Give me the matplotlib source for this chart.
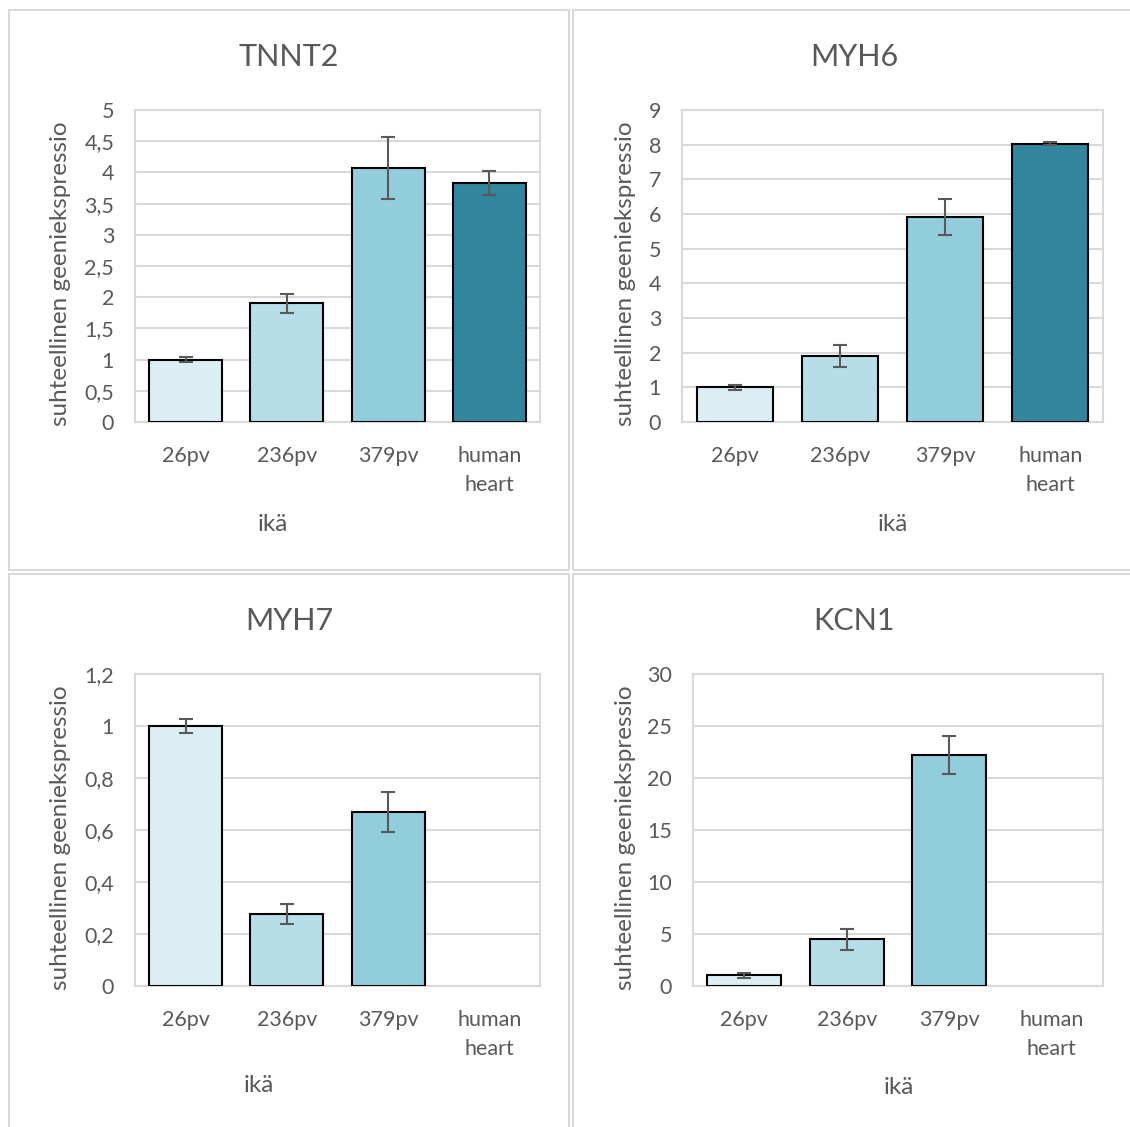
import numpy as np
import matplotlib
matplotlib.use("Agg")
import matplotlib.pyplot as plt
from matplotlib.patches import Rectangle
from matplotlib.ticker import FuncFormatter, MultipleLocator

plt.rcParams['font.family'] = ['Lato', 'DejaVu Sans']

categories = ["26pv", "236pv", "379pv", "human\nheart"]

tnnt2_values = [1.0, 1.9, 4.07, 3.83]
tnnt2_err = [0.04, 0.15, 0.50, 0.20]

myh6_values = [1.0, 1.90, 5.90, 8.03]
myh6_err = [0.08, 0.31, 0.52, 0.04]

myh7_values = [1.0, 0.276, 0.668, np.nan]
myh7_err = [0.026, 0.038, 0.077, np.nan]

kcn1_values = [1.02, 4.5, 22.2, np.nan]
kcn1_err = [0.26, 1.02, 1.8, np.nan]

bar_colors = ["#DAEEF3", "#B7DDE8", "#92CDDC", "#31859C"]
text_color = "#595959"
grid_color = "#D9D9D9"

W, H = 1130, 1127
fig = plt.figure(figsize=(W / 100, H / 100), dpi=100)


def px_axes(x0, y0, x1, y1):
    # pixel box (top-left origin) -> figure axes
    return fig.add_axes([x0 / W, 1 - y1 / H, (x1 - x0) / W, (y1 - y0) / H])


def panel_box(x0, y0, x1, y1):
    fig.patches.append(Rectangle((x0 / W, 1 - y1 / H), (x1 - x0) / W, (y1 - y0) / H,
                                 transform=fig.transFigure, fill=False,
                                 edgecolor="#D9D9D9", linewidth=1.5))


def comma_fmt(v, pos):
    s = ("%.1f" % v).rstrip("0").rstrip(".")
    return s.replace(".", ",")


def draw_chart(box, title, title_xy, xlabel_xy, ylabel_x, values, errs, ymax, step):
    ax = px_axes(*box)
    x = np.arange(len(categories))
    ax.bar(x, values, width=0.72, color=bar_colors, edgecolor="black",
           linewidth=1.5, zorder=3)
    ax.errorbar(x, values, yerr=errs, fmt="none", ecolor=text_color,
                elinewidth=1.5, capsize=4.7, capthick=1.5, zorder=4)
    ax.set_xlim(-0.5, len(categories) - 0.5)
    ax.set_ylim(0, ymax)
    ax.yaxis.set_major_locator(MultipleLocator(step))
    ax.yaxis.set_major_formatter(FuncFormatter(comma_fmt))
    ax.set_xticks(x)
    ax.set_xticklabels(categories, linespacing=1.6)
    ax.tick_params(axis="both", length=0, labelsize=15.5, colors=text_color)
    ax.tick_params(axis="x", pad=17)
    ax.tick_params(axis="y", pad=15)
    ax.grid(axis="y", color=grid_color, linewidth=1.5, zorder=0)
    ax.set_axisbelow(True)
    for sp in ax.spines.values():
        sp.set_color(grid_color)
        sp.set_linewidth(1.5)
    fig.text(title_xy[0] / W, 1 - title_xy[1] / H, title, ha="center", va="center",
             fontsize=22, color=text_color)
    fig.text(xlabel_xy[0] / W, 1 - xlabel_xy[1] / H, "ikä", ha="center", va="center",
             fontsize=17.5, color=text_color)
    yc = (box[1] + box[3]) / 2 + 8
    fig.text(ylabel_x / W, 1 - yc / H, "suhteellinen geeniekspressio", rotation=90,
             ha="center", va="center", fontsize=17.5, color=text_color)
    return ax


panel_box(9, 10, 569, 570)
panel_box(573, 10, 1133, 570)
panel_box(9, 574, 569, 1134)
panel_box(573, 574, 1133, 1134)

draw_chart((135, 110, 540, 422), "TNNT2", (289, 57), (273, 524), 61,
           tnnt2_values, tnnt2_err, 5, 0.5)
draw_chart((682, 110, 1103, 422), "MYH6", (854, 57), (893, 524), 625,
           myh6_values, myh6_err, 9, 1)
draw_chart((135, 674, 540, 986), "MYH7", (289, 621), (259, 1086), 61,
           myh7_values, myh7_err, 1.2, 0.2)
draw_chart((693, 674, 1103, 986), "KCN1", (854, 621), (899, 1088), 625,
           kcn1_values, kcn1_err, 30, 5)

fig.savefig("out.png", dpi=100)
